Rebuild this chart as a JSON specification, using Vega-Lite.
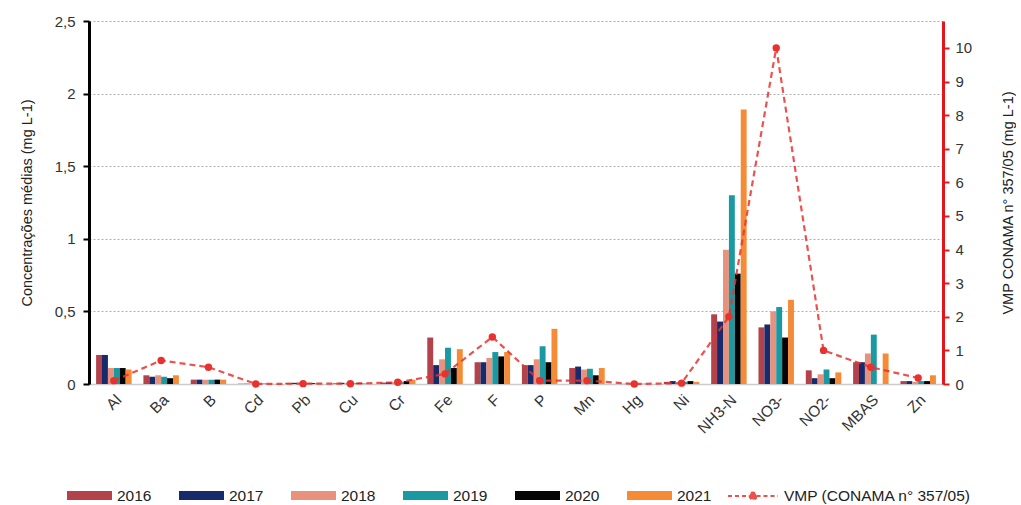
{
  "$schema": "https://vega.github.io/schema/vega-lite/v6.json",
  "width": 854,
  "height": 363,
  "padding": {"left": 19, "top": 14, "right": 0, "bottom": 0},
  "background": "white",
  "config": {
    "font": "Liberation Sans",
    "view": {"stroke": null},
    "axis": {"labelFont": "Liberation Sans", "titleFont": "Liberation Sans", "labelColor": "#333", "titleColor": "#222", "labelFontSize": 15, "titleFontSize": 14.5, "titleFontWeight": "normal"},
    "legend": {"labelFont": "Liberation Sans", "labelFontSize": 15.5, "labelColor": "#222", "labelLimit": 400}
  },
  "datasets": {
    "bars": [
      {"el": "Al", "year": "2016", "v": 0.2}, {"el": "Al", "year": "2017", "v": 0.2}, {"el": "Al", "year": "2018", "v": 0.11}, {"el": "Al", "year": "2019", "v": 0.11}, {"el": "Al", "year": "2020", "v": 0.11}, {"el": "Al", "year": "2021", "v": 0.1},
      {"el": "Ba", "year": "2016", "v": 0.06}, {"el": "Ba", "year": "2017", "v": 0.05}, {"el": "Ba", "year": "2018", "v": 0.06}, {"el": "Ba", "year": "2019", "v": 0.05}, {"el": "Ba", "year": "2020", "v": 0.04}, {"el": "Ba", "year": "2021", "v": 0.06},
      {"el": "B", "year": "2016", "v": 0.03}, {"el": "B", "year": "2017", "v": 0.03}, {"el": "B", "year": "2018", "v": 0.03}, {"el": "B", "year": "2019", "v": 0.03}, {"el": "B", "year": "2020", "v": 0.03}, {"el": "B", "year": "2021", "v": 0.03},
      {"el": "Cd", "year": "2016", "v": 0.002}, {"el": "Cd", "year": "2017", "v": 0.002}, {"el": "Cd", "year": "2018", "v": 0.002}, {"el": "Cd", "year": "2019", "v": 0.002}, {"el": "Cd", "year": "2020", "v": 0.002}, {"el": "Cd", "year": "2021", "v": 0.002},
      {"el": "Pb", "year": "2016", "v": 0.008}, {"el": "Pb", "year": "2017", "v": 0.008}, {"el": "Pb", "year": "2018", "v": 0.006}, {"el": "Pb", "year": "2019", "v": 0.006}, {"el": "Pb", "year": "2020", "v": 0.006}, {"el": "Pb", "year": "2021", "v": 0.006},
      {"el": "Cu", "year": "2016", "v": 0.005}, {"el": "Cu", "year": "2017", "v": 0.008}, {"el": "Cu", "year": "2018", "v": 0.005}, {"el": "Cu", "year": "2019", "v": 0.005}, {"el": "Cu", "year": "2020", "v": 0.008}, {"el": "Cu", "year": "2021", "v": 0.005},
      {"el": "Cr", "year": "2016", "v": 0.01}, {"el": "Cr", "year": "2017", "v": 0.012}, {"el": "Cr", "year": "2018", "v": 0.012}, {"el": "Cr", "year": "2019", "v": 0.012}, {"el": "Cr", "year": "2020", "v": 0.02}, {"el": "Cr", "year": "2021", "v": 0.03},
      {"el": "Fe", "year": "2016", "v": 0.32}, {"el": "Fe", "year": "2017", "v": 0.13}, {"el": "Fe", "year": "2018", "v": 0.17}, {"el": "Fe", "year": "2019", "v": 0.25}, {"el": "Fe", "year": "2020", "v": 0.11}, {"el": "Fe", "year": "2021", "v": 0.24},
      {"el": "F", "year": "2016", "v": 0.15}, {"el": "F", "year": "2017", "v": 0.15}, {"el": "F", "year": "2018", "v": 0.18}, {"el": "F", "year": "2019", "v": 0.22}, {"el": "F", "year": "2020", "v": 0.19}, {"el": "F", "year": "2021", "v": 0.22},
      {"el": "P", "year": "2016", "v": 0.13}, {"el": "P", "year": "2017", "v": 0.13}, {"el": "P", "year": "2018", "v": 0.17}, {"el": "P", "year": "2019", "v": 0.26}, {"el": "P", "year": "2020", "v": 0.15}, {"el": "P", "year": "2021", "v": 0.38},
      {"el": "Mn", "year": "2016", "v": 0.11}, {"el": "Mn", "year": "2017", "v": 0.12}, {"el": "Mn", "year": "2018", "v": 0.1}, {"el": "Mn", "year": "2019", "v": 0.105}, {"el": "Mn", "year": "2020", "v": 0.06}, {"el": "Mn", "year": "2021", "v": 0.11},
      {"el": "Hg", "year": "2016", "v": 0.001}, {"el": "Hg", "year": "2017", "v": 0.001}, {"el": "Hg", "year": "2018", "v": 0.001}, {"el": "Hg", "year": "2019", "v": 0.001}, {"el": "Hg", "year": "2020", "v": 0.001}, {"el": "Hg", "year": "2021", "v": 0.001},
      {"el": "Ni", "year": "2016", "v": 0.015}, {"el": "Ni", "year": "2017", "v": 0.02}, {"el": "Ni", "year": "2018", "v": 0.01}, {"el": "Ni", "year": "2019", "v": 0.015}, {"el": "Ni", "year": "2020", "v": 0.02}, {"el": "Ni", "year": "2021", "v": 0.015},
      {"el": "NH3-N", "year": "2016", "v": 0.48}, {"el": "NH3-N", "year": "2017", "v": 0.43}, {"el": "NH3-N", "year": "2018", "v": 0.925}, {"el": "NH3-N", "year": "2019", "v": 1.3}, {"el": "NH3-N", "year": "2020", "v": 0.76}, {"el": "NH3-N", "year": "2021", "v": 1.89},
      {"el": "NO3-", "year": "2016", "v": 0.39}, {"el": "NO3-", "year": "2017", "v": 0.41}, {"el": "NO3-", "year": "2018", "v": 0.5}, {"el": "NO3-", "year": "2019", "v": 0.53}, {"el": "NO3-", "year": "2020", "v": 0.32}, {"el": "NO3-", "year": "2021", "v": 0.58},
      {"el": "NO2-", "year": "2016", "v": 0.094}, {"el": "NO2-", "year": "2017", "v": 0.04}, {"el": "NO2-", "year": "2018", "v": 0.067}, {"el": "NO2-", "year": "2019", "v": 0.1}, {"el": "NO2-", "year": "2020", "v": 0.04}, {"el": "NO2-", "year": "2021", "v": 0.08},
      {"el": "MBAS", "year": "2016", "v": 0.15}, {"el": "MBAS", "year": "2017", "v": 0.15}, {"el": "MBAS", "year": "2018", "v": 0.21}, {"el": "MBAS", "year": "2019", "v": 0.34}, {"el": "MBAS", "year": "2021", "v": 0.21},
      {"el": "Zn", "year": "2016", "v": 0.02}, {"el": "Zn", "year": "2017", "v": 0.02}, {"el": "Zn", "year": "2018", "v": 0.015}, {"el": "Zn", "year": "2019", "v": 0.02}, {"el": "Zn", "year": "2020", "v": 0.02}, {"el": "Zn", "year": "2021", "v": 0.06}
    ],
    "vmp": [
      {"el": "Al", "vmp": 0.1}, {"el": "Ba", "vmp": 0.7}, {"el": "B", "vmp": 0.5}, {"el": "Cd", "vmp": 0.001}, {"el": "Pb", "vmp": 0.01}, {"el": "Cu", "vmp": 0.009}, {"el": "Cr", "vmp": 0.05}, {"el": "Fe", "vmp": 0.3}, {"el": "F", "vmp": 1.4}, {"el": "P", "vmp": 0.1}, {"el": "Mn", "vmp": 0.1}, {"el": "Hg", "vmp": 0.0002}, {"el": "Ni", "vmp": 0.025}, {"el": "NH3-N", "vmp": 2.0}, {"el": "NO3-", "vmp": 10}, {"el": "NO2-", "vmp": 1.0}, {"el": "MBAS", "vmp": 0.5}, {"el": "Zn", "vmp": 0.18}
    ]
  },
  "layer": [
    {
      "data": {"name": "bars"},
      "mark": {"type": "bar"},
      "encoding": {
        "x": {
          "field": "el", "type": "nominal",
          "sort": ["Al", "Ba", "B", "Cd", "Pb", "Cu", "Cr", "Fe", "F", "P", "Mn", "Hg", "Ni", "NH3-N", "NO3-", "NO2-", "MBAS", "Zn"],
          "scale": {"paddingInner": 0.25, "paddingOuter": 0.15},
          "axis": {"title": null, "labelAngle": -45, "ticks": false, "domainColor": "#cccccc", "domainWidth": 1.5, "labelPadding": 8, "labelFontSize": 15.5}
        },
        "xOffset": {"field": "year", "type": "nominal", "sort": ["2016", "2017", "2018", "2019", "2020", "2021"]},
        "y": {
          "field": "v", "type": "quantitative",
          "scale": {"domain": [0, 2.5]},
          "axis": {"title": "Concentrações médias (mg L-1)", "values": [0, 0.5, 1, 1.5, 2, 2.5], "format": "~g", "labelExpr": "replace(datum.label, '.', ',')", "grid": true, "gridDash": [2, 2], "gridColor": "#b0b0b0", "domainColor": "black", "domainWidth": 3, "tickColor": "black", "tickWidth": 2, "tickSize": 6, "labelPadding": 8, "titlePadding": 20}
        },
        "color": {
          "field": "year", "type": "nominal",
          "scale": {"domain": ["2016", "2017", "2018", "2019", "2020", "2021"], "range": ["#b4424b", "#172a6b", "#e8927d", "#1b99a1", "#050505", "#f68b37"]},
          "legend": {"orient": "none", "legendX": -22, "legendY": 452, "direction": "horizontal", "title": null, "symbolType": "M-1,-0.2H1V0.2H-1Z", "symbolSize": 2025, "symbolStrokeWidth": 0, "columnPadding": 27, "labelOffset": 5}
        }
      }
    },
    {
      "data": {"name": "vmp"},
      "encoding": {
        "x": {"field": "el", "type": "nominal", "sort": ["Al", "Ba", "B", "Cd", "Pb", "Cu", "Cr", "Fe", "F", "P", "Mn", "Hg", "Ni", "NH3-N", "NO3-", "NO2-", "MBAS", "Zn"]},
        "y": {
          "field": "vmp", "type": "quantitative",
          "scale": {"domain": [0, 10.8], "nice": false},
          "axis": {"orient": "right", "title": "VMP CONAMA n° 357/05 (mg L-1)", "titleAngle": 270, "values": [0, 1, 2, 3, 4, 5, 6, 7, 8, 9, 10], "grid": false, "domainColor": "#e4161c", "domainWidth": 3, "tickColor": "#e4161c", "tickWidth": 2, "tickSize": 6, "labelPadding": 6, "titlePadding": 44}
        }
      },
      "layer": [
        {
          "mark": {"type": "line", "strokeDash": [6, 4], "strokeWidth": 2.2, "opacity": 0.85},
          "encoding": {
            "stroke": {
              "datum": "VMP (CONAMA n° 357/05)",
              "scale": {"range": ["#e8322f"]},
              "legend": {"orient": "none", "legendX": 638, "legendY": 449, "title": null, "symbolType": "M-1,0H-0.14M0.14,0H1M0.14,0A0.14,0.14,0,1,1,-0.14,0A0.14,0.14,0,1,1,0.14,0Z", "symbolSize": 2500, "symbolStrokeWidth": 2, "symbolDash": [4, 3], "symbolFillColor": "#e8322f", "labelOffset": 5}
            }
          }
        },
        {
          "mark": {"type": "point", "filled": true, "size": 55, "color": "#e8322f", "opacity": 1},
          "encoding": {}
        }
      ]
    }
  ],
  "resolve": {"scale": {"y": "independent"}}
}
